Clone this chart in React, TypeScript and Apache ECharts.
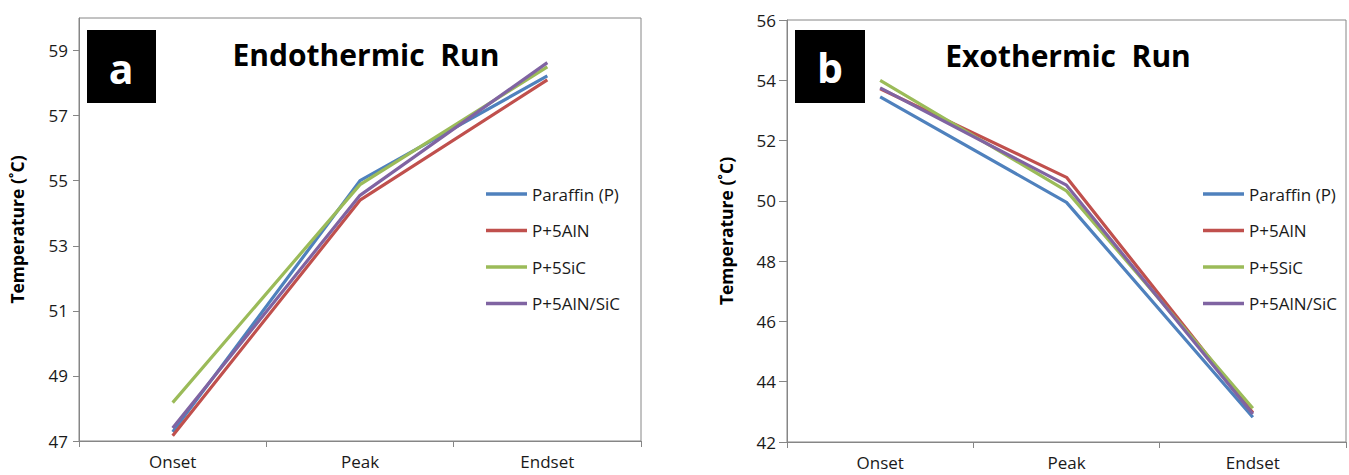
import React, { useEffect, useRef } from "react";
import * as echarts from "echarts";

const categories = ["Onset", "Peak", "Endset"];
const seriesNames = ["Paraffin (P)", "P+5AlN", "P+5SiC", "P+5AlN/SiC"];
const seriesColors = ["#4F81BD", "#C0504D", "#9BBB59", "#8064A2"];

// Endothermic run (panel a)
const endoParaffin = [47.28, 55.0, 58.22];
const endoAlN = [47.16, 54.4, 58.1];
const endoSiC = [48.18, 54.88, 58.5];
const endoAlNSiC = [47.4, 54.55, 58.63];

// Exothermic run (panel b)
const exoParaffin = [53.45, 49.95, 42.82];
const exoAlN = [53.72, 50.78, 42.97];
const exoSiC = [54.0, 50.33, 43.12];
const exoAlNSiC = [53.75, 50.52, 42.93];

const endoTicks = [47, 49, 51, 53, 55, 57, 59];

const FONT = "'Open Sans', sans-serif";
const AXIS_COLOR = "#868686";
const TEXT_COLOR = "#1a1a1a";

export default function App() {
  const ref = useRef<HTMLDivElement>(null);

  useEffect(() => {
    if (!ref.current) return;
    const chart = echarts.init(ref.current, undefined, { renderer: "svg" });

    const endoData = [endoParaffin, endoAlN, endoSiC, endoAlNSiC];
    const exoData = [exoParaffin, exoAlN, exoSiC, exoAlNSiC];

    const xAxisBase = (gridIndex: number) => ({
      type: "category",
      gridIndex,
      data: categories,
      boundaryGap: true,
      axisLine: { show: true, lineStyle: { color: AXIS_COLOR, width: 1 } },
      axisTick: { show: true, length: 6, lineStyle: { color: AXIS_COLOR } },
      axisLabel: { fontFamily: FONT, fontSize: 17, color: TEXT_COLOR, margin: 12 },
      splitLine: { show: false },
    });

    const yName = "Temperature (˚C)";

    const option: any = {
      animation: false,
      backgroundColor: "#ffffff",
      grid: [
        { left: 79, top: 18, width: 562, height: 423, show: true, borderColor: AXIS_COLOR, borderWidth: 1, containLabel: false },
        { left: 787, top: 20, width: 559, height: 422, show: true, borderColor: AXIS_COLOR, borderWidth: 1, containLabel: false },
      ],
      xAxis: [xAxisBase(0), xAxisBase(1)],
      yAxis: [
        {
          type: "value",
          gridIndex: 0,
          min: 47,
          max: 60,
          name: yName,
          nameLocation: "middle",
          nameRotate: 90,
          nameGap: 53,
          nameTextStyle: { fontFamily: FONT, fontSize: 17.5, fontWeight: "bold", color: "#000" },
          axisLine: { show: true, lineStyle: { color: AXIS_COLOR } },
          axisTick: { show: true, length: 6, customValues: endoTicks, lineStyle: { color: AXIS_COLOR } },
          axisLabel: { fontFamily: FONT, fontSize: 17, color: TEXT_COLOR, margin: 11, customValues: endoTicks },
          splitLine: { show: false },
        },
        {
          type: "value",
          gridIndex: 1,
          min: 42,
          max: 56,
          interval: 2,
          name: yName,
          nameLocation: "middle",
          nameRotate: 90,
          nameGap: 52,
          nameTextStyle: { fontFamily: FONT, fontSize: 17.5, fontWeight: "bold", color: "#000" },
          axisLine: { show: true, lineStyle: { color: AXIS_COLOR } },
          axisTick: { show: true, length: 8, lineStyle: { color: AXIS_COLOR } },
          axisLabel: { fontFamily: FONT, fontSize: 17, color: TEXT_COLOR, margin: 11 },
          splitLine: { show: false },
        },
      ],
      legend: [0, 1].map((i) => ({
        data: seriesNames,
        orient: "vertical",
        left: i === 0 ? 486 : 1203,
        top: 184,
        icon: "rect",
        itemWidth: 41,
        itemHeight: 3.5,
        itemGap: 16.5,
        padding: 0,
        selectedMode: false,
        textStyle: { fontFamily: FONT, fontSize: 17, color: TEXT_COLOR, lineHeight: 20 },
      })),
      graphic: [
        { type: "rect", left: 87, top: 30, shape: { width: 69, height: 73 }, style: { fill: "#000" } },
        {
          type: "text",
          x: 121,
          y: 68,
          style: { text: "a", fill: "#fff", font: `bold 41px ${FONT}`, textAlign: "center", textVerticalAlign: "middle" },
        },
        {
          type: "text",
          x: 366,
          y: 54,
          style: { text: "Endothermic  Run", fill: "#000", font: `bold 30px ${FONT}`, textAlign: "center", textVerticalAlign: "middle" },
        },
        { type: "rect", left: 795, top: 30, shape: { width: 70, height: 73 }, style: { fill: "#000" } },
        {
          type: "text",
          x: 830,
          y: 67,
          style: { text: "b", fill: "#fff", font: `bold 41px ${FONT}`, textAlign: "center", textVerticalAlign: "middle" },
        },
        {
          type: "text",
          x: 1068,
          y: 55,
          style: { text: "Exothermic  Run", fill: "#000", font: `bold 30px ${FONT}`, textAlign: "center", textVerticalAlign: "middle" },
        },
      ],
      series: [
        ...seriesNames.map((name, i) => ({
          name,
          type: "line",
          xAxisIndex: 0,
          yAxisIndex: 0,
          data: endoData[i],
          symbol: "none",
          lineStyle: { color: seriesColors[i], width: 3.2 },
          itemStyle: { color: seriesColors[i] },
        })),
        ...seriesNames.map((name, i) => ({
          name,
          type: "line",
          xAxisIndex: 1,
          yAxisIndex: 1,
          data: exoData[i],
          symbol: "none",
          lineStyle: { color: seriesColors[i], width: 3.2 },
          itemStyle: { color: seriesColors[i] },
        })),
      ],
    };

    chart.setOption(option);
    return () => chart.dispose();
  }, []);

  return (
    <div
      ref={ref}
      style={{ position: "fixed", left: 0, top: 0, width: 1349, height: 475 }}
    />
  );
}
